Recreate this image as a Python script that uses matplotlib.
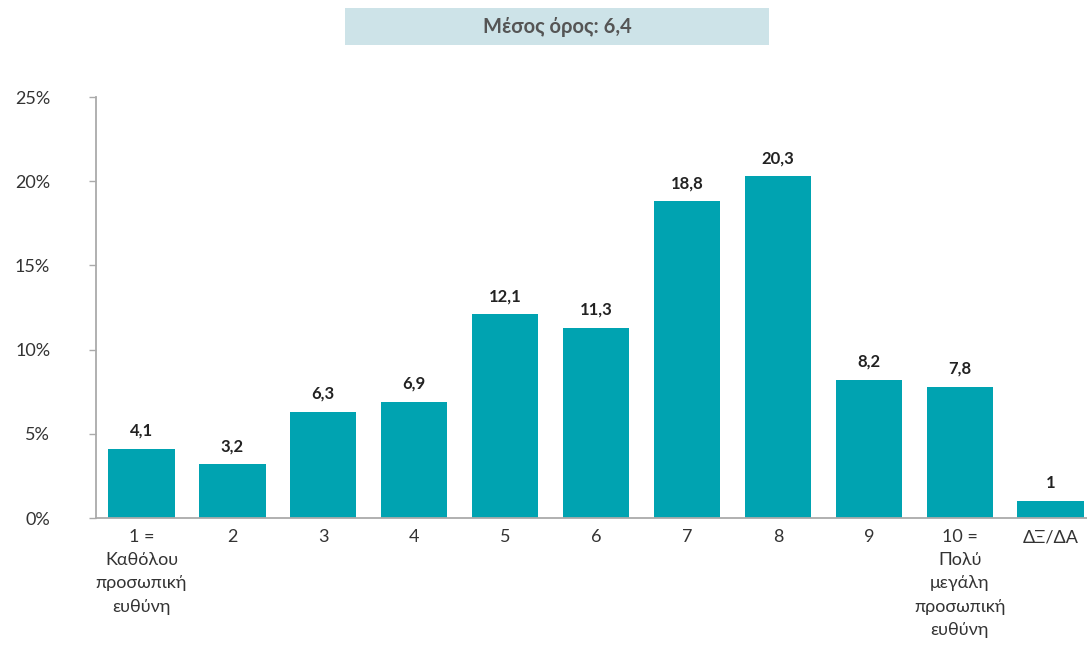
import matplotlib.pyplot as plt
from matplotlib.patches import Rectangle
from matplotlib.ticker import FuncFormatter

# dane
categories = ['1 =\nΚαθόλου\nπροσωπική\nευθύνη', '2', '3', '4', '5', '6', '7', '8', '9',
              '10 =\nΠολύ\nμεγάλη\nπροσωπική\nευθύνη', 'ΔΞ/ΔΑ']
values = [4.1, 3.2, 6.3, 6.9, 12.1, 11.3, 18.8, 20.3, 8.2, 7.8, 1.0]
value_labels = ['4,1', '3,2', '6,3', '6,9', '12,1', '11,3', '18,8', '20,3', '8,2', '7,8', '1']
mean_label = 'Μέσος όρος: 6,4'

plt.rcParams['font.family'] = ['Lato', 'DejaVu Sans']

fig = plt.figure(figsize=(10.87, 6.52), dpi=100)
ax = fig.add_axes([0.0883, 0.2055, 0.9117, 0.6457])

x = range(len(values))
ax.bar(x, values, width=0.73, color='#00a3b1')

for xi, v, lab in zip(x, values, value_labels):
    ax.text(xi, v + 0.6, lab, ha='center', va='bottom', fontsize=12,
            fontweight='bold', color='#222222')

ax.set_xlim(-0.5, 10.4)
ax.set_ylim(0, 25)
ax.set_yticks([0, 5, 10, 15, 20, 25])
ax.yaxis.set_major_formatter(FuncFormatter(lambda v, p: f'{int(v)}%'))
ax.set_xticks(list(x))
ax.set_xticklabels(categories, fontsize=13, color='#333333', linespacing=1.55)
ax.tick_params(axis='x', length=0, pad=8)
ax.tick_params(axis='y', length=5, width=1, color='#aaaaaa', labelsize=13,
               labelcolor='#333333', pad=28)

for s in ['top', 'right']:
    ax.spines[s].set_visible(False)
for s in ['left', 'bottom']:
    ax.spines[s].set_color('#aaaaaa')
    ax.spines[s].set_linewidth(1.3)

# ramka ze średnią
fig.patches.append(Rectangle((345 / 1087, 1 - 45 / 652), 424 / 1087, 37 / 652,
                             transform=fig.transFigure, facecolor='#cde3e8',
                             edgecolor='none'))
fig.text(557 / 1087, 1 - 27 / 652, mean_label, ha='center', va='center', fontsize=14.5,
         fontweight='bold', color='#555555')

fig.savefig('out.png', dpi=100)
